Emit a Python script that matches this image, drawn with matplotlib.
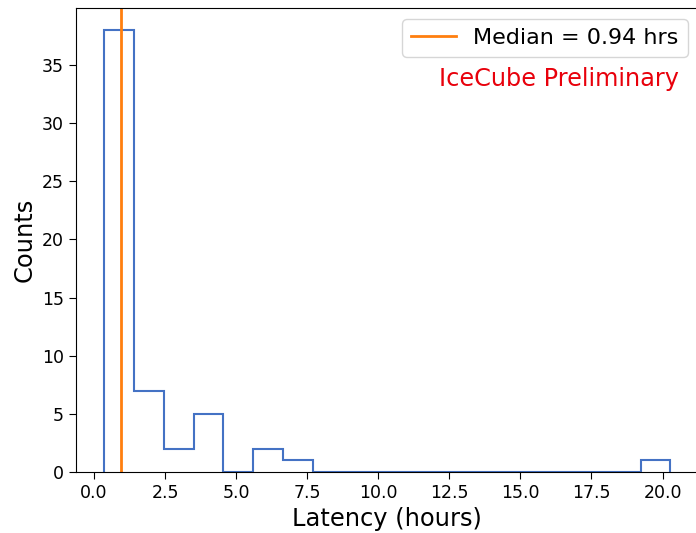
import numpy as np
import matplotlib
matplotlib.use("Agg")
import matplotlib.pyplot as plt

bin_edges = np.linspace(0.36, 20.28, 20)
counts = [38, 7, 2, 5, 0, 2, 1, 0, 0, 0, 0, 0, 0, 0, 0, 0, 0, 0, 1]
median_hrs = 0.94

centers = 0.5 * (bin_edges[:-1] + bin_edges[1:])

fig = plt.figure(figsize=(6.96, 5.33), dpi=100)
ax = fig.add_axes([0.109, 0.1144, 0.895, 0.8705])
ax.hist(centers, bins=bin_edges, weights=counts, histtype='step', color='#4472c4', linewidth=1.5)
ax.axvline(median_hrs, color='#ff7f0e', linewidth=2, label=f'Median = {median_hrs} hrs')
ax.set_xticks(np.arange(0, 20.1, 2.5))
ax.tick_params(labelsize=12.5, length=5)
ax.set_xlabel('Latency (hours)', fontsize=17.4)
ax.set_ylabel('Counts', fontsize=17.4)
ax.legend(loc='upper right', fontsize=16)
ax.text(0.969, 0.847, 'IceCube Preliminary', color='#e8000b', fontsize=17.3,
        transform=ax.transAxes, ha='right', va='center')
fig.savefig('out.png', dpi=100)
